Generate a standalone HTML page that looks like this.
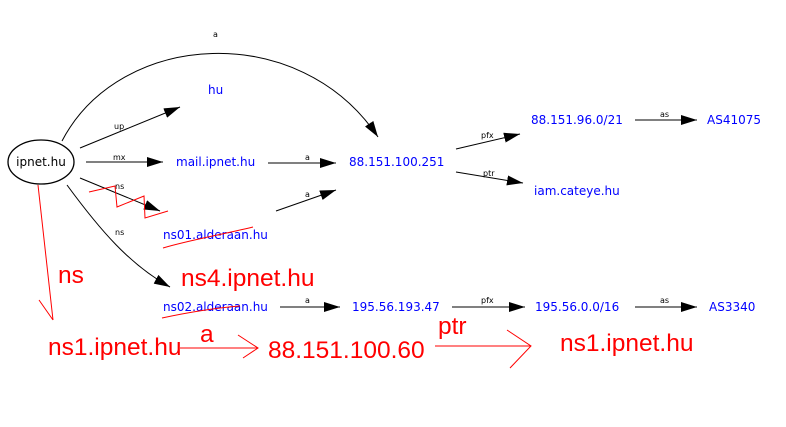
<!DOCTYPE html>
<html><head><meta charset="utf-8"><style>
html,body{margin:0;padding:0;background:#fff;}
svg{display:block;}
.b{font-family:"DejaVu Sans","Liberation Sans",sans-serif;font-size:12px;fill:#0000ff;}
.s{font-family:"DejaVu Sans","Liberation Sans",sans-serif;font-size:8px;fill:#000;}
.r{font-family:"Liberation Sans",sans-serif;font-size:24.5px;fill:#ff0000;}
</style></head><body>
<svg width="786" height="427" viewBox="0 0 786 427" xmlns="http://www.w3.org/2000/svg">
<defs>
<marker id="ab" markerWidth="16" markerHeight="10" refX="16" refY="5" orient="auto" markerUnits="userSpaceOnUse"><path d="M0,0 L16,5 L0,10 Z" fill="#000"/></marker></defs>
<g stroke="#000" stroke-width="1" fill="none">
<ellipse cx="41" cy="162" rx="33" ry="22" stroke-width="1.3"/>
<path d="M62,141 C120,30 300,20 378,137" marker-end="url(#ab)"/>
<path d="M80,148 L180,107" marker-end="url(#ab)"/>
<path d="M86,162 L163,162" marker-end="url(#ab)"/>
<path d="M80,178 L160,211" marker-end="url(#ab)"/>
<path d="M67,185 C100,230 130,265 170,287" marker-end="url(#ab)"/>
<path d="M268,163 L336,163" marker-end="url(#ab)"/>
<path d="M276,211 L336,190" marker-end="url(#ab)"/>
<path d="M456,149 L520,134" marker-end="url(#ab)"/>
<path d="M456,172 L523,183" marker-end="url(#ab)"/>
<path d="M635,120 L697,120" marker-end="url(#ab)"/>
<path d="M280,307 L340,307" marker-end="url(#ab)"/>
<path d="M452,307 L525,307" marker-end="url(#ab)"/>
<path d="M635,307 L697,307" marker-end="url(#ab)"/>
</g>
<text x="41" y="166" text-anchor="middle" font-family="DejaVu Sans,Liberation Sans,sans-serif" font-size="12">ipnet.hu</text>
<text class="s" x="213" y="37">a</text>
<text class="s" x="114" y="129">up</text>
<text class="s" x="113" y="160">mx</text>
<text class="s" x="115" y="189">ns</text>
<text class="s" x="115" y="235">ns</text>
<text class="s" x="305" y="160">a</text>
<text class="s" x="305" y="197">a</text>
<text class="s" x="481" y="138">pfx</text>
<text class="s" x="483" y="176">ptr</text>
<text class="s" x="660" y="117">as</text>
<text class="s" x="305" y="303">a</text>
<text class="s" x="481" y="303">pfx</text>
<text class="s" x="660" y="303">as</text>
<text class="b" x="208" y="94">hu</text>
<text class="b" x="176" y="166">mail.ipnet.hu</text>
<text class="b" x="349" y="166">88.151.100.251</text>
<text class="b" x="531" y="124">88.151.96.0/21</text>
<text class="b" x="707" y="124">AS41075</text>
<text class="b" x="534" y="195">iam.cateye.hu</text>
<text class="b" x="163" y="239">ns01.alderaan.hu</text>
<text class="b" x="163" y="311">ns02.alderaan.hu</text>
<text class="b" x="352" y="311">195.56.193.47</text>
<text class="b" x="535" y="311">195.56.0.0/16</text>
<text class="b" x="709" y="311">AS3340</text>
<g stroke="#ff0000" stroke-width="1" fill="none">
<path d="M89,192 L115,186 L117,207 L144,196 L145,218 L168,211"/>
<path d="M163,248 C190,240 220,235 253,227"/>
<path d="M162,318 C190,312 215,308 240,306"/>
<path d="M38,185 L53,320 M39,300 L53,320"/>
<path d="M180,348 L258,348 M238,335 L258,348 L243,358"/>
<path d="M435,346 L531,346 M507,330 L531,346 L510,368"/>
</g>
<text class="r" x="181" y="286">ns4.ipnet.hu</text>
<text class="r" x="58" y="283">ns</text>
<text class="r" x="48" y="355">ns1.ipnet.hu</text>
<text class="r" x="200" y="342">a</text>
<text class="r" x="268" y="358">88.151.100.60</text>
<text class="r" x="438" y="334">ptr</text>
<text class="r" x="560" y="351">ns1.ipnet.hu</text>
</svg>
</body></html>
